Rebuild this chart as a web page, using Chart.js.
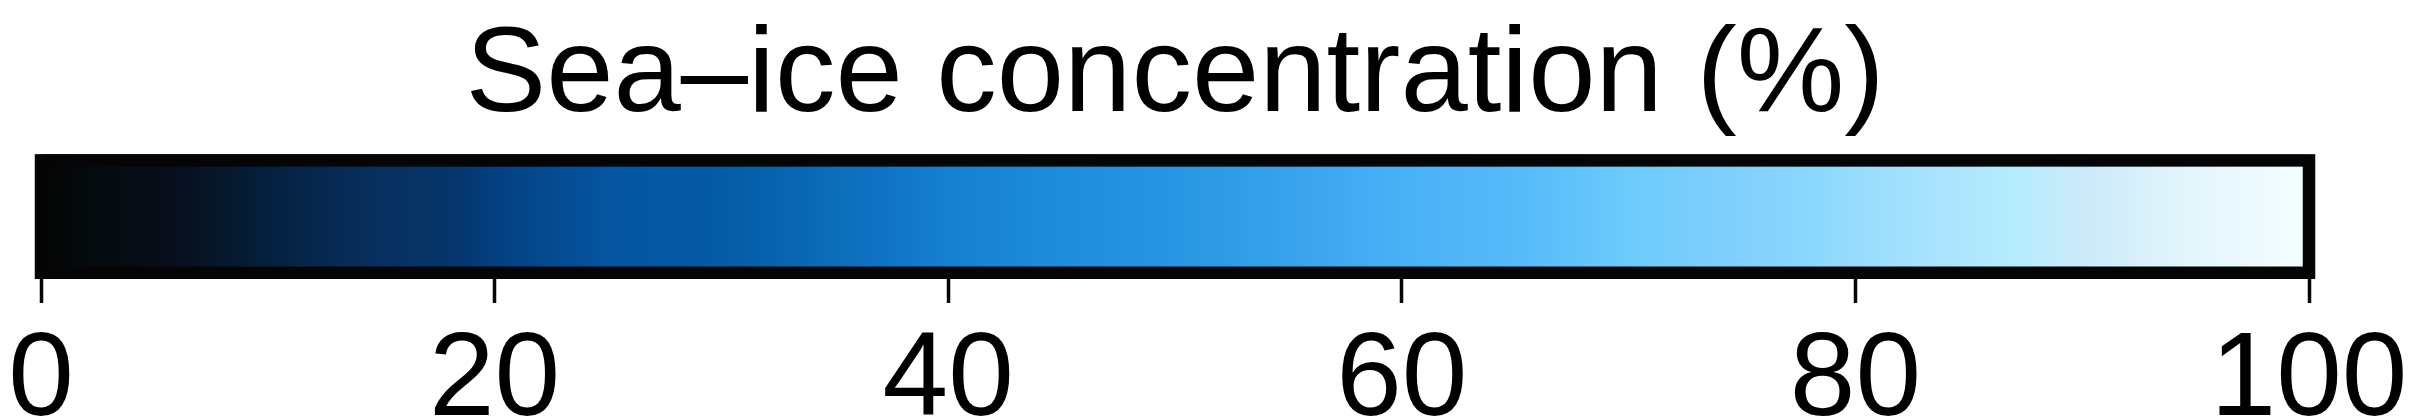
<!DOCTYPE html>
<html>
<head>
<meta charset="utf-8">
<script src="https://cdn.jsdelivr.net/npm/chart.js@4"></script>
<style>
  html, body { margin: 0; padding: 0; background: #fff; }
  #wrap { width: 2419px; height: 419px; }
</style>
</head>
<body>
<div id="wrap"><canvas id="cbar"></canvas></div>
<script>
// colour bar range and ticks
const barRange = [0, 100];
const tickValues = [0, 20, 40, 60, 80, 100];
const titleText = 'Sea–ice concentration (%)';

// colours, at these concentrations (%)
const stopValues = [0, 3, 5, 8, 10, 15, 18, 20, 25, 30, 35, 37, 40, 45, 50, 55, 60, 65, 70, 75, 78, 80, 85, 87, 90, 95, 100];
const stopColors = ['#050505', '#040c10', '#080c18', '#06182a', '#05203f', '#083060', '#053468', '#043f80',
  '#0555a0', '#045aa5', '#0c6db8', '#0f72c6', '#1680d0', '#1e8cdc', '#2896e2', '#38a2ec', '#4ab1f6',
  '#55baf9', '#6ccbfc', '#82d0fc', '#8ad8fd', '#97dcfc', '#b0e6fe', '#b4ecfe', '#cbeaf8', '#e4f6fc', '#f4fefe'];

Chart.defaults.font.family = "'Liberation Sans', Arial, sans-serif";
Chart.defaults.color = '#000';

function barGradient(context) {
  const chart = context.chart;
  if (!chart.chartArea) return '#000';
  const x = chart.scales.x;
  const g = chart.ctx.createLinearGradient(x.getPixelForValue(barRange[0]), 0, x.getPixelForValue(barRange[1]), 0);
  stopValues.forEach((v, i) => g.addColorStop((v - barRange[0]) / (barRange[1] - barRange[0]), stopColors[i]));
  return g;
}

// black frame centred on the bar edges
const framePlugin = {
  id: 'frame',
  afterDatasetsDraw(chart) {
    const x = chart.scales.x;
    const bar = chart.getDatasetMeta(0).data[0];
    const c = chart.ctx;
    const lw = 12.5;
    const x0 = x.getPixelForValue(barRange[0]);
    const x1 = x.getPixelForValue(barRange[1]);
    const top = Math.min(bar.y - bar.height / 2, bar.y + bar.height / 2);
    const bottom = Math.max(bar.y - bar.height / 2, bar.y + bar.height / 2);
    c.save();
    c.strokeStyle = '#050505';
    c.lineWidth = lw;
    c.lineJoin = 'miter';
    c.strokeRect(x0, top + lw / 2, x1 - x0, bottom - top - lw);
    c.restore();
  }
};

new Chart(document.getElementById('cbar'), {
  type: 'bar',
  data: {
    labels: ['concentration'],
    datasets: [{
      data: [barRange],
      backgroundColor: barGradient,
      borderWidth: 0,
      barPercentage: 1,
      categoryPercentage: 1
    }]
  },
  options: {
    indexAxis: 'y',
    responsive: true,
    maintainAspectRatio: false,
    animation: false,
    layout: { padding: { left: 41, right: 110, top: 0, bottom: 0 } },
    scales: {
      x: {
        type: 'linear',
        min: 0,
        max: 100,
        afterBuildTicks: (axis) => { axis.ticks = tickValues.map(v => ({ value: v })); },
        afterFit: (axis) => { axis.height = 140; },  // labels run off the bottom edge, as in the original
        grid: {
          drawOnChartArea: false,
          drawTicks: true,
          tickLength: 24,
          tickWidth: 3.5,
          tickColor: '#050505'
        },
        border: { display: false },
        ticks: {
          maxRotation: 0,
          padding: 2,
          font: { size: 118, lineHeight: 1.32 },
          color: '#000'
        }
      },
      y: { display: false }
    },
    plugins: {
      legend: { display: false },
      tooltip: { enabled: false },
      title: {
        display: true,
        text: titleText,
        color: '#000',
        font: { size: 121, weight: 'normal', lineHeight: 1.15 },
        padding: { top: 8, bottom: 7 }
      }
    }
  },
  plugins: [framePlugin]
});
</script>
</body>
</html>
